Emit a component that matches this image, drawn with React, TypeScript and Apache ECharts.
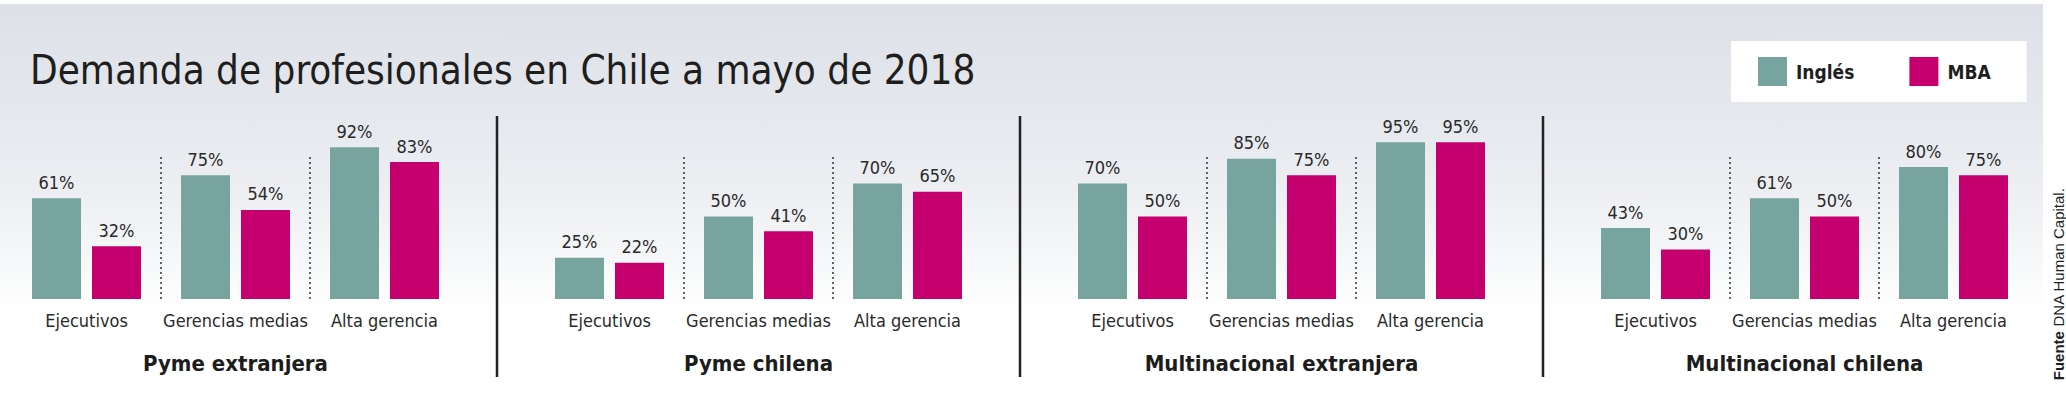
import React, { useEffect, useRef } from "react";
import * as echarts from "echarts";

// ---- Data ----
const TITLE = "Demanda de profesionales en Chile a mayo de 2018";
const CATEGORIES = ["Ejecutivos", "Gerencias medias", "Alta gerencia"];
const PANELS = ["Pyme extranjera", "Pyme chilena", "Multinacional extranjera", "Multinacional chilena"];
const SERIES_NAMES = ["Inglés", "MBA"];
const INGLES_PYME_EXTRANJERA = [61, 75, 92];
const MBA_PYME_EXTRANJERA = [32, 54, 83];
const INGLES_PYME_CHILENA = [25, 50, 70];
const MBA_PYME_CHILENA = [22, 41, 65];
const INGLES_MULTI_EXTRANJERA = [70, 85, 95];
const MBA_MULTI_EXTRANJERA = [50, 75, 95];
const INGLES_MULTI_CHILENA = [43, 61, 80];
const MBA_MULTI_CHILENA = [30, 50, 75];
const SOURCE_LABEL = "Fuente";
const SOURCE_TEXT = "DNA Human Capital.";

const INGLES = [INGLES_PYME_EXTRANJERA, INGLES_PYME_CHILENA, INGLES_MULTI_EXTRANJERA, INGLES_MULTI_CHILENA];
const MBA = [MBA_PYME_EXTRANJERA, MBA_PYME_CHILENA, MBA_MULTI_EXTRANJERA, MBA_MULTI_CHILENA];

// ---- Layout / style ----
const COLORS = ["#77a49f", "#c5006e"];
const FONT = '"Liberation Sans Narrow", "DejaVu Sans Condensed", "Roboto Condensed", Roboto, sans-serif';
const SRC_FONT = '"Liberation Sans", Arial, sans-serif';
const PANEL_LEFT = [12, 535, 1058, 1581];
const PANEL_W = 447;
const GRID_TOP = 134;
const GRID_H = 165;
const DOT_TOP = 157;
const SEPARATORS_X = [497, 1020, 1543];

export default function App() {
  const ref = useRef<HTMLDivElement>(null);

  useEffect(() => {
    document.body.style.margin = "0";
    if (!ref.current) return;
    const chart = echarts.init(ref.current, null, { renderer: "svg" });

    const grid: any[] = [];
    const xAxis: any[] = [];
    const yAxis: any[] = [];
    const series: any[] = [];

    PANELS.forEach((name, p) => {
      grid.push({ left: PANEL_LEFT[p], width: PANEL_W, top: GRID_TOP, height: GRID_H, containLabel: false });
      xAxis.push({
        type: "category",
        gridIndex: p,
        data: CATEGORIES,
        axisLine: { show: false },
        axisTick: { show: false },
        splitLine: { show: false },
        axisLabel: { interval: 0, fontSize: 18, color: "#2a2a2a", fontFamily: FONT, margin: 12 },
        name,
        nameLocation: "middle",
        nameGap: 53,
        nameTextStyle: { fontSize: 22, fontWeight: "bold", color: "#1c1c1c", fontFamily: FONT },
      });
      yAxis.push({ type: "value", gridIndex: p, min: 0, max: 100, show: false });
    });

    PANELS.forEach((_, p) => {
      const gi = PANELS.length + p;
      grid.push({ left: PANEL_LEFT[p], width: PANEL_W, top: DOT_TOP, height: GRID_TOP + GRID_H - DOT_TOP });
      xAxis.push({
        type: "category",
        gridIndex: gi,
        data: CATEGORIES,
        axisLine: { show: false },
        axisTick: { show: false },
        axisLabel: { show: false },
        splitLine: {
          show: true,
          showMinLine: false,
          showMaxLine: false,
          lineStyle: { type: [2, 3], color: "#333", width: 1.5 },
        },
      });
      yAxis.push({ type: "value", gridIndex: gi, min: 0, max: 1, show: false });
    });

    PANELS.forEach((_, p) => {
      [INGLES[p], MBA[p]].forEach((vals, s) => {
        series.push({
          type: "bar",
          name: SERIES_NAMES[s],
          xAxisIndex: p,
          yAxisIndex: p,
          data: vals,
          barWidth: 49,
          barGap: "22.4%",
          itemStyle: { color: COLORS[s] },
          label: {
            show: true,
            position: "top",
            distance: 7,
            formatter: "{c}%",
            fontSize: 18,
            color: "#2a2a2a",
            fontFamily: FONT,
          },
        });
      });
    });

    chart.setOption({
      animation: false,
      color: COLORS,
      title: {
        text: TITLE,
        left: 30,
        top: 50,
        padding: 0,
        textStyle: { fontSize: 40, fontWeight: "normal", color: "#1e1e1e", fontFamily: FONT },
      },
      legend: {
        data: SERIES_NAMES,
        left: 1731,
        top: 41,
        orient: "horizontal",
        icon: "rect",
        itemWidth: 29,
        itemHeight: 29,
        itemGap: 55,
        padding: [16, 36, 16, 27],
        backgroundColor: "#ffffff",
        selectedMode: false,
        textStyle: { fontSize: 19, fontWeight: "bold", color: "#1e1e1e", fontFamily: FONT, padding: [0, 0, 0, 4] },
      },
      grid,
      xAxis,
      yAxis,
      series,
      graphic: [
        {
          type: "rect",
          z: -100,
          silent: true,
          shape: { x: 0, y: 4, width: 2043, height: 306 },
          style: {
            fill: new echarts.graphic.LinearGradient(0, 0, 0, 1, [
              { offset: 0, color: "#dde1e7" },
              { offset: 0.4, color: "#e6e9ee" },
              { offset: 0.65, color: "#eef0f3" },
              { offset: 0.85, color: "#f7f8f9" },
              { offset: 1, color: "#ffffff" },
            ]),
          },
        },
        ...SEPARATORS_X.map((x) => ({
          type: "line",
          silent: true,
          shape: { x1: x, y1: 116, x2: x, y2: 377 },
          style: { stroke: "#222", lineWidth: 2.5 },
        })),
        {
          type: "text",
          x: 2058,
          y: 284,
          rotation: Math.PI / 2,
          style: {
            text: `{b|${SOURCE_LABEL}} ${SOURCE_TEXT}`,
            rich: { b: { fontWeight: "bold", fontSize: 15, fontFamily: SRC_FONT, fill: "#1e1e1e" } },
            fontSize: 15,
            fontFamily: SRC_FONT,
            fill: "#1e1e1e",
            align: "center",
            verticalAlign: "middle",
          },
        },
      ],
    });

    return () => chart.dispose();
  }, []);

  return <div ref={ref} style={{ width: 2066, height: 407, background: "#ffffff" }} />;
}
